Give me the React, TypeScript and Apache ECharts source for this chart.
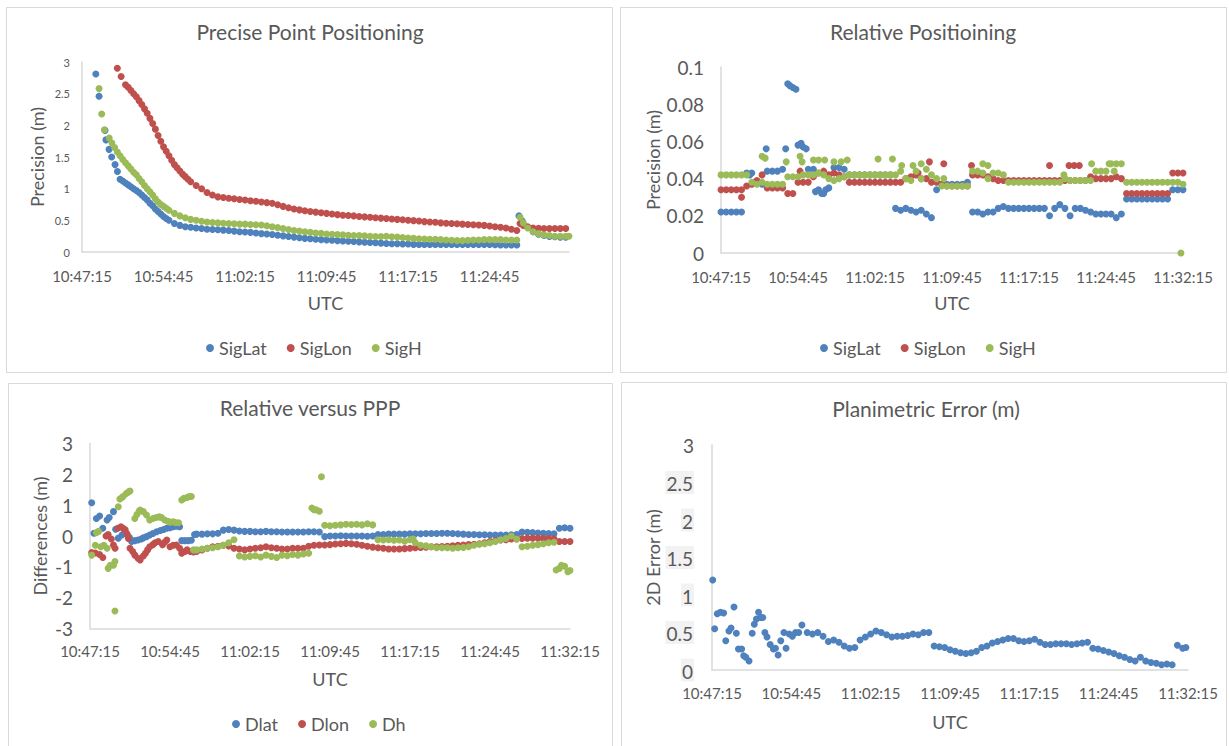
import React, { useEffect, useRef } from 'react';
import * as echarts from 'echarts';

// Time is expressed in minutes after 10:47:15 UTC
const START_SEC = 10 * 3600 + 47 * 60 + 15;
const TICK_MIN = 7.5;

// ---------- Panel 1: Precise Point Positioning ----------
const pppLatSparse = [[1.27, 2.81], [1.57, 2.46], [2.12, 1.92], [2.2, 1.77], [2.49, 1.62], [2.73, 1.5], [3.04, 1.38], [3.26, 1.27]];
const pppLatA = [1.15, 1.12, 1.09, 1.06, 1.03, 1.0, 0.97, 0.94, 0.9, 0.86, 0.82, 0.77, 0.73, 0.68, 0.64, 0.6, 0.56, 0.53, 0.5]; // 3.5.. step .25
const pppLatB = [0.45, 0.42, 0.4, 0.39, 0.38, 0.37, 0.36, 0.355, 0.35, 0.345, 0.34, 0.33, 0.32, 0.315, 0.31, 0.3, 0.29, 0.285, 0.275, 0.265, 0.255, 0.245, 0.235, 0.225, 0.215, 0.21, 0.2, 0.195, 0.19, 0.185, 0.18, 0.175, 0.17, 0.165, 0.16, 0.155, 0.15, 0.145, 0.14, 0.135, 0.13, 0.13, 0.125, 0.125, 0.12, 0.12, 0.12, 0.12, 0.12, 0.12, 0.12, 0.12, 0.12, 0.12, 0.12, 0.12, 0.12, 0.12, 0.12, 0.115, 0.11, 0.11, 0.11, 0.11]; // 8.5.. step .5
const pppLatTail = [[40.2, 0.57], [40.5, 0.49], [41, 0.39], [41.5, 0.32], [42, 0.28], [42.5, 0.26], [43, 0.245], [43.5, 0.24], [44, 0.235], [44.5, 0.235]];

const pppLonSparse = [[3.25, 2.9], [3.6, 2.77]];
const pppLonA = [2.64, 2.6, 2.55, 2.5, 2.45, 2.39, 2.33, 2.26, 2.19, 2.11, 2.03, 1.94, 1.84, 1.75, 1.66, 1.59, 1.52, 1.45, 1.38, 1.33, 1.28, 1.23, 1.19, 1.15, 1.11]; // 4.0.. step .25
const pppLonB = [1.05, 1.0, 0.94, 0.9, 0.87, 0.86, 0.85, 0.84, 0.83, 0.82, 0.81, 0.8, 0.79, 0.78, 0.77, 0.745, 0.72, 0.7, 0.68, 0.665, 0.65, 0.64, 0.63, 0.62, 0.61, 0.6, 0.59, 0.58, 0.575, 0.57, 0.56, 0.555, 0.55, 0.54, 0.535, 0.53, 0.52, 0.515, 0.51, 0.5, 0.495, 0.49, 0.48, 0.475, 0.47, 0.46, 0.455, 0.45, 0.445, 0.44, 0.435, 0.43, 0.425, 0.42, 0.41, 0.4, 0.39, 0.38, 0.36, 0.34]; // 10.5.. step .5
const pppLonTail = [[40.3, 0.45], [40.6, 0.42], [41, 0.4], [41.5, 0.38], [42, 0.375], [42.5, 0.37], [43, 0.37], [43.5, 0.37], [44, 0.37], [44.5, 0.37]];

const pppHSparse = [[1.57, 2.58], [1.81, 2.18], [2.06, 1.93]];
const pppHA = [1.8, 1.72, 1.65, 1.58, 1.52, 1.46, 1.41, 1.36, 1.31, 1.26, 1.22, 1.16, 1.11, 1.05, 1.0, 0.95, 0.9, 0.84, 0.79, 0.75, 0.72, 0.69, 0.66]; // 2.5.. step .25
const pppHB = [0.61, 0.57, 0.54, 0.515, 0.5, 0.485, 0.475, 0.465, 0.46, 0.455, 0.45, 0.445, 0.44, 0.44, 0.435, 0.43, 0.425, 0.415, 0.4, 0.385, 0.37, 0.355, 0.34, 0.33, 0.32, 0.31, 0.3, 0.295, 0.285, 0.28, 0.275, 0.27, 0.265, 0.26, 0.26, 0.255, 0.25, 0.245, 0.245, 0.25, 0.24, 0.235, 0.23, 0.22, 0.215, 0.21, 0.205, 0.2, 0.2, 0.195, 0.19, 0.185, 0.18, 0.18, 0.185, 0.19, 0.19, 0.195, 0.195, 0.195, 0.195, 0.19, 0.19, 0.19]; // 8.5.. step .5
const pppHTail = [[40.3, 0.55], [40.6, 0.46], [41, 0.38], [41.5, 0.32], [42, 0.29], [42.5, 0.27], [43, 0.26], [43.5, 0.25], [44, 0.25], [44.5, 0.25], [44.8, 0.25]];

// ---------- Panel 2: Relative Positioning (0..45 step .5) ----------
const relLat = [0.022, 0.022, 0.022, 0.022, 0.022, 0.043, 0.043, 0.038, 0.037, 0.044, 0.044, 0.044, 0.045, 0.091, 0.089, 0.058, 0.057, 0.045, 0.045, 0.034, 0.032, 0.035, 0.046, 0.046, 0.045, 0.042,
  0.042, 0.042, 0.042, 0.042, 0.042, 0.042, 0.042, 0.042,
  0.024, 0.023, 0.024, 0.023, 0.022, 0.023, 0.021, 0.019, 0.034, 0.037, 0.037, 0.037, 0.037, 0.037, 0.038,
  0.022, 0.022, 0.021, 0.022, 0.022, 0.024, 0.025, 0.024, 0.024, 0.024, 0.024, 0.024, 0.024, 0.024, 0.024, 0.02, 0.024, 0.026, 0.024, 0.02, 0.024, 0.024, 0.023, 0.022, 0.021, 0.021, 0.021, 0.021, 0.019, 0.021,
  0.029, 0.029, 0.029, 0.029, 0.029, 0.029, 0.029, 0.029, 0.029, 0.034, 0.034, 0.034];
const relLatExtra = [[2.8, 0.042], [3.3, 0.038], [4.4, 0.056], [6.3, 0.056], [6.7, 0.09], [7.3, 0.088], [7.8, 0.059], [8.3, 0.056], [9.2, 0.033], [9.8, 0.032], [10.2, 0.034]];
const relLon = [0.034, 0.034, 0.034, 0.034, 0.034, 0.036, 0.037, 0.039, 0.042, 0.035, 0.035, 0.035, 0.035, 0.032, 0.032, 0.038, 0.038, 0.038, 0.041, 0.043, 0.044, 0.042, 0.043, 0.042, 0.041, 0.038,
  0.038, 0.038, 0.038, 0.038, 0.038, 0.038, 0.038, 0.038, 0.038, 0.038, 0.04, 0.041, 0.042, 0.04, 0.04, 0.038, 0.038, 0.037,
  0.036, 0.036, 0.036, 0.036, 0.036, 0.042, 0.042, 0.042, 0.041, 0.04,
  0.039, 0.039, 0.039, 0.039, 0.039, 0.039, 0.039, 0.039, 0.039, 0.039, 0.039, 0.039, 0.039, 0.039, 0.039, 0.039, 0.039, 0.039,
  0.041, 0.04, 0.04, 0.04, 0.04, 0.041, 0.04,
  0.032, 0.032, 0.032, 0.032, 0.032, 0.032, 0.032, 0.032, 0.032, 0.043, 0.043, 0.043];
const relLonExtra = [[2.0, 0.03], [7.7, 0.044], [19.2, 0.043], [20.3, 0.049], [21.7, 0.048], [24.4, 0.047], [32.0, 0.047], [33.9, 0.047], [34.4, 0.047], [34.9, 0.047]];
const relH = [0.042, 0.042, 0.042, 0.042, 0.042, 0.042, 0.038, 0.037, 0.038, 0.037, 0.037, 0.037, 0.037,
  0.041, 0.041, 0.041, 0.042, 0.042, 0.042, 0.043, 0.042, 0.04, 0.039, 0.04, 0.041, 0.042,
  0.042, 0.042, 0.042, 0.042, 0.042, 0.042, 0.042, 0.042, 0.042,
  0.044, 0.04, 0.039, 0.044, 0.04, 0.045, 0.042, 0.04, 0.036,
  0.036, 0.036, 0.036, 0.036, 0.036, 0.044, 0.044, 0.043, 0.04, 0.043, 0.043, 0.042,
  0.038, 0.038, 0.038, 0.038, 0.038, 0.038, 0.038, 0.038, 0.038, 0.038, 0.038, 0.04, 0.039, 0.039, 0.039, 0.039,
  0.039, 0.044, 0.044, 0.044, 0.048, 0.048, 0.048,
  0.038, 0.038, 0.038, 0.038, 0.038, 0.038, 0.038, 0.038, 0.038, 0.038, 0.038, 0.037];
const relHExtra = [[4.0, 0.052], [4.3, 0.051], [6.35, 0.049], [7.7, 0.052], [7.9, 0.049], [9.0, 0.05], [9.5, 0.05], [10.1, 0.05], [11.0, 0.049], [11.7, 0.049], [12.3, 0.05], [15.3, 0.0505], [16.7, 0.0505], [17.6, 0.047], [18.7, 0.047], [19.5, 0.048], [21.7, 0.04], [25.5, 0.048], [26.0, 0.047], [33.4, 0.042], [36.1, 0.048], [37.8, 0.048], [38.3, 0.044], [44.8, 0]];

// ---------- Panel 3: Relative versus PPP ----------
const difLatSparse = [[0.16, 1.08], [0.37, 0.09], [0.6, 0.57], [0.9, 0.65], [1.2, 0.25], [1.6, 0.52], [1.8, 0.6], [2.2, 0.79], [2.4, 0.22], [2.65, -0.07], [3.0, 0.03], [3.2, 0.08], [3.4, 0.1], [3.7, -0.05], [3.9, -0.18], [4.2, -0.15], [4.5, -0.13], [4.8, -0.1], [5.0, -0.06], [5.3, -0.02], [5.6, 0.03], [5.9, 0.08], [6.25, 0.14], [6.6, 0.18], [6.9, 0.21], [7.2, 0.25], [7.5, 0.27], [7.8, 0.3], [8.1, 0.32], [8.4, 0.3], [8.6, -0.15], [8.9, -0.15], [9.2, -0.15], [9.5, -0.14], [9.8, 0.05]];
const difLat = [0.06, 0.06, 0.07, 0.07, 0.09, 0.19, 0.21, 0.19, 0.16, 0.15, 0.15, 0.14, 0.14, 0.15, 0.14, 0.14, 0.13, 0.13, 0.13, 0.13, 0.13, 0.14, 0.14, 0.13,
  -0.02, 0.0, 0.0, 0.01, 0.0, 0.0, 0.0, 0.0, -0.01, 0.0,
  0.05, 0.05, 0.06, 0.06, 0.06, 0.06, 0.07, 0.07, 0.07, 0.08, 0.08, 0.08, 0.09, 0.09, 0.08, 0.07, 0.06, 0.05, 0.05, 0.04, 0.04, 0.03, 0.03, 0.03, 0.03, 0.04, 0.05,
  0.13, 0.12, 0.11, 0.1, 0.09, 0.08, 0.07, 0.25, 0.27, 0.25]; // 10.. step .5
const difLonSparse = [[0.16, -0.54], [0.5, -0.55], [0.9, -0.6], [1.2, -0.7], [1.5, 0.0], [1.7, 0.05], [2.0, -0.1], [2.2, -0.29], [2.35, -0.4], [2.6, 0.25], [2.9, 0.3], [3.1, 0.25], [3.3, 0.2], [3.5, 0.05], [3.6, -0.08], [3.75, -0.4], [4.0, -0.5], [4.2, -0.62], [4.5, -0.72], [4.7, -0.78], [5.0, -0.65], [5.2, -0.56], [5.4, -0.45], [5.6, -0.35], [5.9, -0.28], [6.1, -0.22], [6.4, -0.18], [6.8, -0.28], [7.0, -0.2], [7.2, -0.13], [7.5, -0.35], [7.8, -0.3], [8.1, -0.29], [8.4, -0.4], [8.6, -0.56], [8.9, -0.5], [9.1, -0.45], [9.4, -0.5], [9.7, -0.52]];
const difLon = [-0.5, -0.45, -0.4, -0.35, -0.33, -0.3, -0.32, -0.4, -0.42, -0.45, -0.42, -0.4, -0.38, -0.35, -0.38, -0.4, -0.42, -0.42, -0.4, -0.4, -0.4, -0.33, -0.3, -0.29,
  -0.29, -0.28, -0.26, -0.25, -0.24, -0.25, -0.27, -0.3, -0.33, -0.36,
  -0.38, -0.4, -0.42, -0.42, -0.42, -0.41, -0.4, -0.38, -0.37, -0.36, -0.35, -0.35, -0.34, -0.33, -0.32, -0.3, -0.29, -0.28, -0.27, -0.25, -0.22, -0.18, -0.15, -0.13, -0.12, -0.1, -0.1,
  -0.08, -0.07, -0.07, -0.07, -0.08, -0.08, -0.09, -0.18, -0.18, -0.18]; // 10.. step .5
const difHSparse = [[0.16, -0.62], [0.5, -0.3], [0.6, 0.11], [0.8, 0.15], [1.0, -0.35], [1.3, -0.3], [1.6, -0.4], [1.7, -1.05], [1.9, -0.95], [2.2, -0.95], [2.34, -2.43], [2.34, -0.83], [2.65, 0.95], [2.8, 1.2], [3.0, 1.25], [3.1, 1.28], [3.4, 1.38], [3.6, 1.43], [3.75, 1.46], [4.2, 0.57], [4.4, 0.7], [4.6, 0.8], [4.7, 0.84], [5.0, 0.79], [5.3, 0.68], [5.6, 0.52], [5.9, 0.57], [6.2, 0.6], [6.5, 0.62], [6.7, 0.6], [7.0, 0.52], [7.3, 0.48], [7.5, 0.45], [7.8, 0.46], [8.0, 0.44], [8.3, 0.43], [8.6, 1.17], [8.8, 1.22], [9.1, 1.25], [9.3, 1.28], [9.5, 1.28], [9.7, -0.45], [20.8, 0.91], [21.2, 0.85], [21.7, 1.92], [30.3, -0.1], [43.7, -1.1], [44.2, -0.95], [44.8, -1.16]];
const difH = [-0.45, -0.42, -0.4, -0.38, -0.35, -0.3, -0.22, -0.12, -0.65, -0.68, -0.66, -0.64, -0.68, -0.62, -0.66, -0.7, -0.62, -0.64, -0.6, -0.62, -0.58, -0.56, 0.85, 0.8,
  0.35, 0.33, 0.35, 0.36, 0.38, 0.37, 0.38, 0.36, 0.4, 0.36,
  -0.12, -0.13, -0.12, -0.14, -0.13, -0.17, -0.12, -0.22, -0.3, -0.32, -0.35, -0.38, -0.38, -0.38, -0.4, -0.38, -0.37, -0.35, -0.3, -0.27, -0.25, -0.22, -0.18, -0.12, -0.08, 0.0, -0.1,
  -0.35, -0.33, -0.3, -0.28, -0.25, -0.22, -0.2, -1.05, -0.98, -1.12]; // 10.. step .5

// ---------- Panel 4: Planimetric Error ----------
const err2dSparse = [[0.07, 1.2], [0.25, 0.55], [0.5, 0.75], [0.8, 0.77], [1.1, 0.76], [1.3, 0.39], [1.6, 0.52], [1.8, 0.56], [2.08, 0.84], [2.3, 0.49], [2.5, 0.28], [2.8, 0.28], [3.0, 0.19], [3.2, 0.17], [3.5, 0.12], [3.8, 0.49], [4.0, 0.61], [4.2, 0.68], [4.4, 0.77], [4.6, 0.7], [4.8, 0.7], [5.0, 0.5], [5.2, 0.44], [5.5, 0.34], [5.8, 0.28], [6.0, 0.29], [6.25, 0.2], [6.5, 0.39], [6.8, 0.5], [7.0, 0.29], [7.3, 0.48], [7.6, 0.45], [7.9, 0.5], [8.2, 0.5], [8.5, 0.6], [44.8, 0.3]];
const err2d = [0.5, 0.48, 0.5, 0.45, 0.38, 0.4, 0.37, 0.32, 0.29, 0.3, 0.4, 0.44, 0.48, 0.52, 0.5, 0.47, 0.44, 0.45, 0.45, 0.46, 0.48, 0.47, 0.5, 0.5,
  0.32, 0.31, 0.3, 0.27, 0.25, 0.23, 0.22, 0.23, 0.25, 0.3, 0.32, 0.36, 0.38, 0.4, 0.42, 0.42, 0.39, 0.38, 0.39, 0.41,
  0.37, 0.34, 0.34, 0.35, 0.35, 0.35, 0.34, 0.35, 0.36, 0.37,
  0.29, 0.28, 0.26, 0.24, 0.22, 0.19, 0.17, 0.14, 0.12, 0.17, 0.12, 0.1, 0.09, 0.07, 0.08, 0.07,
  0.33, 0.29]; // 9.0.. step .5

const BLUE = '#4F81BD';
const RED = '#C0504D';
const GREEN = '#9BBB59';
const TXT = '#595959';
const LINE = '#d9d9d9';
const FONT = 'Lato, "Noto Sans", sans-serif';

const track = (t0: number, dt: number, vals: number[]) =>
  vals.map((v, i) => [Math.round((t0 + i * dt) * 1000) / 1000, v]);

function fmtTime(m: number): string {
  const k = m / TICK_MIN;
  if (Math.abs(k - Math.round(k)) > 1e-6) return '';
  const s = START_SEC + Math.round(m * 60);
  const hh = Math.floor(s / 3600);
  const mm = Math.floor((s % 3600) / 60);
  const ss = s % 60;
  return `${hh}:${String(mm).padStart(2, '0')}:${String(ss).padStart(2, '0')}`;
}

export default function App() {
  const ref = useRef<HTMLDivElement>(null);
  useEffect(() => {
    document.body.style.margin = '0';
    const chart = echarts.init(ref.current!, null, { renderer: 'svg' });

    const xAxis = (gridIndex: number, max: number, margin: number, nameGap: number) => ({
      type: 'value', gridIndex, min: 0, max, interval: TICK_MIN,
      axisLine: { show: true, onZero: false, lineStyle: { color: LINE, width: 1.5 } },
      axisTick: { show: false }, splitLine: { show: false },
      axisLabel: { formatter: fmtTime, fontSize: 15, color: TXT, fontFamily: FONT, margin, showMaxLabel: true },
      name: 'UTC', nameLocation: 'middle', nameGap,
      nameTextStyle: { fontSize: 18, color: TXT, fontFamily: FONT },
    });
    const yAxis = (gridIndex: number, min: number, max: number, interval: number, fontSize: number, margin: number, name: string, nameGap: number, extraLabel: any = {}) => ({
      type: 'value', gridIndex, min, max, interval,
      axisLine: { show: true, lineStyle: { color: LINE, width: 1.5 } },
      axisTick: { show: false }, splitLine: { show: false },
      axisLabel: { fontSize, color: TXT, fontFamily: FONT, margin, ...extraLabel },
      name, nameLocation: 'middle', nameGap,
      nameTextStyle: { fontSize: 18, color: TXT, fontFamily: FONT },
    });
    const sc = (name: string, idx: number, color: string, data: any[]) => ({
      type: 'scatter', name, xAxisIndex: idx, yAxisIndex: idx, data,
      symbol: 'circle', symbolSize: 7, itemStyle: { color, opacity: 1 },
    });
    const title = (text: string, left: number, top: number) => ({
      text, left, top, textAlign: 'center', padding: 0,
      textStyle: { fontSize: 21, fontWeight: 'normal', color: TXT, fontFamily: FONT },
    });
    const legend = (left: number, top: number, data: string[]) => ({
      left, top, data, icon: 'circle', itemWidth: 8, itemHeight: 8, itemGap: 20, padding: 0,
      textStyle: { fontSize: 18, color: TXT, fontFamily: FONT },
    });

    const shadedLabel = {
      formatter: (v: number) => (v === 3 ? `{p|${v}}` : `{b|${v}}`),
      rich: {
        p: { fontSize: 19, color: TXT, fontFamily: FONT },
        b: { fontSize: 19, color: TXT, fontFamily: FONT, backgroundColor: '#f2f2f2', padding: [3, 1, 1, 1] },
      },
    };

    chart.setOption({
      animation: false,
      backgroundColor: '#ffffff',
      title: [
        title('Precise Point Positioning', 310, 21),
        title('Relative Positioining', 923, 21),
        title('Relative versus PPP', 310, 397),
        title('Planimetric Error (m)', 926, 398),
      ],
      legend: [
        legend(206, 339, ['SigLat', 'SigLon', 'SigH']),
        legend(820, 339, ['SigLat', 'SigLon', 'SigH']),
        legend(232, 715, ['Dlat', 'Dlon', 'Dh']),
      ],
      graphic: [
        { type: 'rect', z: -1, shape: { x: 6.5, y: 7.5, width: 606, height: 365 }, style: { fill: 'none', stroke: LINE, lineWidth: 1 } },
        { type: 'rect', z: -1, shape: { x: 620.5, y: 7.5, width: 606, height: 365 }, style: { fill: 'none', stroke: LINE, lineWidth: 1 } },
        { type: 'rect', z: -1, shape: { x: 8.5, y: 383.5, width: 604, height: 370 }, style: { fill: 'none', stroke: LINE, lineWidth: 1 } },
        { type: 'rect', z: -1, shape: { x: 621.5, y: 382.5, width: 605, height: 370 }, style: { fill: 'none', stroke: LINE, lineWidth: 1 } },
      ],
      grid: [
        { left: 82, top: 62, width: 487, height: 190 },
        { left: 721, top: 67, width: 462, height: 186 },
        { left: 90, top: 443.5, width: 480, height: 185 },
        { left: 712, top: 445, width: 476, height: 225 },
      ],
      xAxis: [
        xAxis(0, 44.8, 16, 42),
        xAxis(1, 45, 16, 41),
        xAxis(2, 45, 15, 41),
        xAxis(3, 45, 15, 43),
      ],
      yAxis: [
        yAxis(0, 0, 3, 0.5, 11, 12, 'Precision (m)', 36),
        yAxis(1, 0, 0.1, 0.02, 19, 17, 'Precision (m)', 59),
        yAxis(2, -3, 3, 1, 19, 17, 'Differences (m)', 41),
        yAxis(3, 0, 3, 0.5, 19, 18, '2D Error (m)', 48, shadedLabel),
      ],
      series: [
        sc('SigLat', 0, BLUE, [...pppLatSparse, ...track(3.5, 0.25, pppLatA), ...track(8.5, 0.5, pppLatB), ...pppLatTail]),
        sc('SigLon', 0, RED, [...pppLonSparse, ...track(4.0, 0.25, pppLonA), ...track(10.5, 0.5, pppLonB), ...pppLonTail]),
        sc('SigH', 0, GREEN, [...pppHSparse, ...track(2.5, 0.25, pppHA), ...track(8.5, 0.5, pppHB), ...pppHTail]),
        sc('SigLat', 1, BLUE, [...track(0, 0.5, relLat), ...relLatExtra]),
        sc('SigLon', 1, RED, [...track(0, 0.5, relLon), ...relLonExtra]),
        sc('SigH', 1, GREEN, [...track(0, 0.5, relH), ...relHExtra]),
        sc('Dlat', 2, BLUE, [...difLatSparse, ...track(10, 0.5, difLat)]),
        sc('Dlon', 2, RED, [...difLonSparse, ...track(10, 0.5, difLon)]),
        sc('Dh', 2, GREEN, [...difHSparse, ...track(10, 0.5, difH)]),
        sc('2D Error', 3, BLUE, [...err2dSparse, ...track(9.0, 0.5, err2d)]),
      ],
    });
    return () => chart.dispose();
  }, []);
  return <div ref={ref} style={{ width: 1229, height: 746 }} />;
}
